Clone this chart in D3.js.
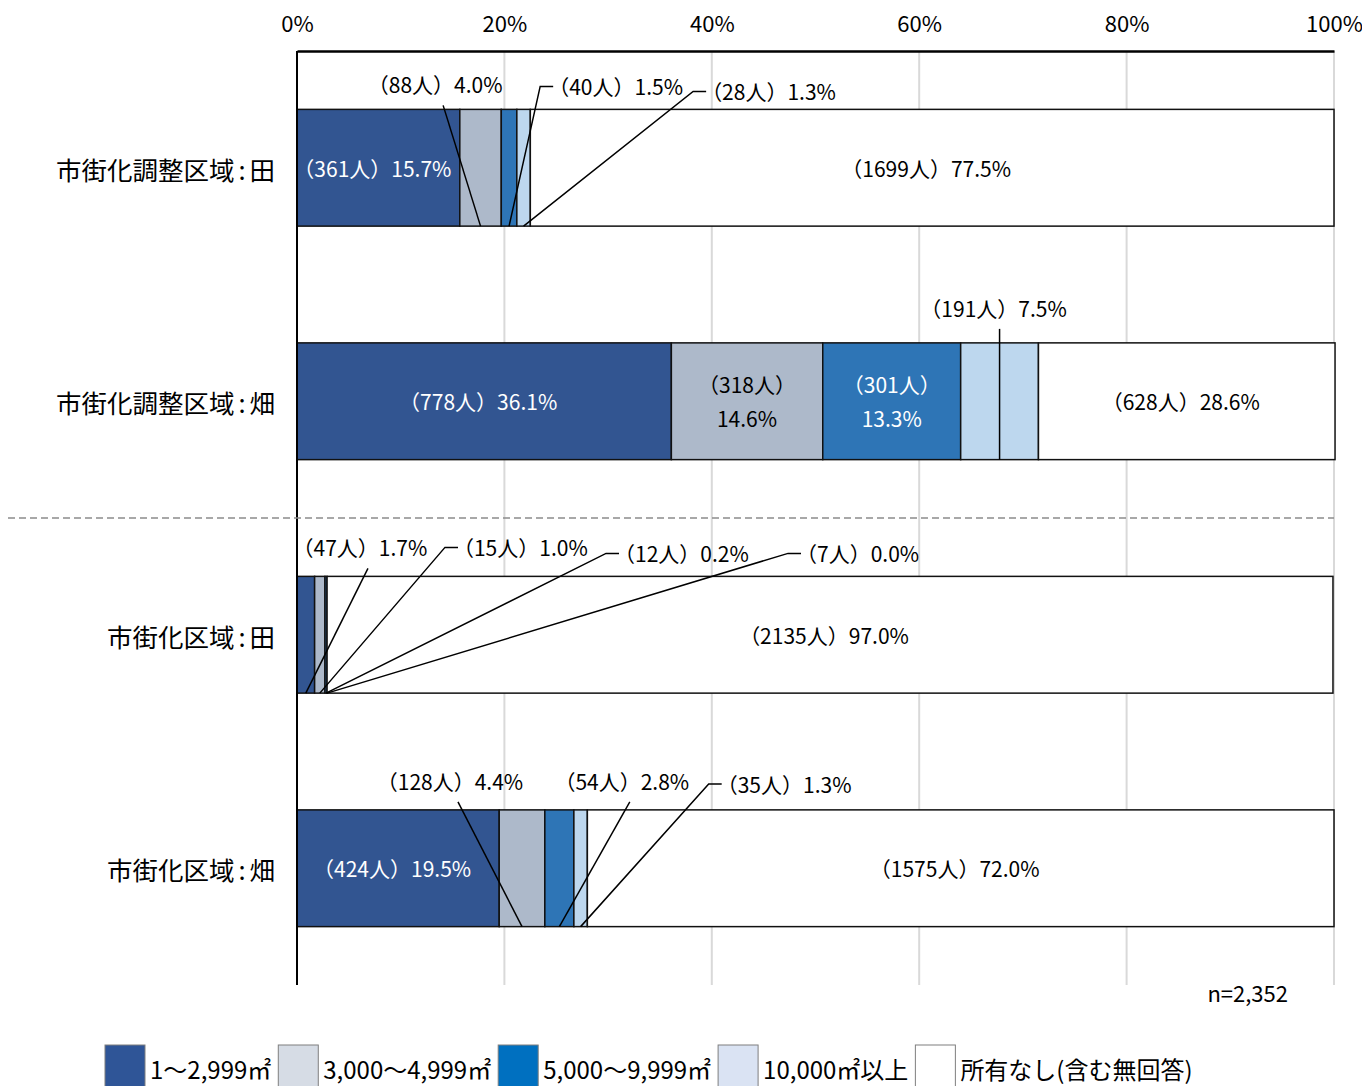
<!DOCTYPE html>
<html><head><meta charset="utf-8">
<script src="https://cdn.jsdelivr.net/npm/d3@7/dist/d3.min.js"></script>
<style>
html,body{margin:0;padding:0;background:#fff;}
text{font-family:"Noto Sans CJK JP","Noto Sans",sans-serif;}
</style></head>
<body>
<svg id="chart" width="1362" height="1086"></svg>
<script>
// ---- data ----
const categories = ["市街化調整区域:田", "市街化調整区域:畑", "市街化区域:田", "市街化区域:畑"];
const seriesNames = ["1～2,999㎡", "3,000～4,999㎡", "5,000～9,999㎡", "10,000㎡以上", "所有なし(含む無回答)"];
// percentages per series (one value per category)
const pct1 = [15.7, 36.1, 1.7, 19.5];
const pct2 = [4.0, 14.6, 1.0, 4.4];
const pct3 = [1.5, 13.3, 0.2, 2.8];
const pct4 = [1.3, 7.5, 0.0, 1.3];
const pct5 = [77.5, 28.6, 97.0, 72.0];
// respondent counts per series
const cnt1 = [361, 778, 47, 424];
const cnt2 = [88, 318, 15, 128];
const cnt3 = [40, 301, 12, 54];
const cnt4 = [28, 191, 7, 35];
const cnt5 = [1699, 628, 2135, 1575];
const xTicks = [0, 20, 40, 60, 80, 100];
const sampleNote = "n=2,352";

(function () {
// ---- styles ----
const barColors = ["#325591", "#ADB9CA", "#2E75B6", "#BDD7EE", "#FFFFFF"];
const legendColors = ["#2F5597", "#D6DCE5", "#0070C0", "#DAE3F3", "#FFFFFF"];
const labelColors = ["#fff", "#000", "#fff", "#000", "#000"];
const SHIFT = -6; // optical shift for labels starting with a full-width paren

// callouts: row, series, label placement (x in % units, dy relative to bar top), elbow style
const callouts = [
  {row:0, s:1, lx:13.9, dy:-25, elbow:false},
  {row:0, s:2, lx:23.45, dy:-23, elbow:true},
  {row:0, s:3, lx:38.2, dy:-18, elbow:true},
  {row:1, s:3, lx:null, dy:-35, elbow:false, vertical:true},
  {row:2, s:0, lx:6.65, dy:-29, elbow:false},
  {row:2, s:1, lx:14.27, dy:-29, elbow:true},
  {row:2, s:2, lx:29.8, dy:-23, elbow:true},
  {row:2, s:3, lx:47.35, dy:-23, elbow:true},
  {row:3, s:1, lx:15.33, dy:-29, elbow:false},
  {row:3, s:2, lx:31.9, dy:-29, elbow:false},
  {row:3, s:3, lx:39.7, dy:-26, elbow:true}
];

const pcts = [pct1, pct2, pct3, pct4, pct5];
const cnts = [cnt1, cnt2, cnt3, cnt4, cnt5];

const svg = d3.select("#chart");
const mLeft = 297, mRight = 1334, mTop = 51, mBottom = 985;

const x = d3.scaleLinear().domain([0, 100]).range([mLeft, mRight]);
const y = d3.scaleBand().domain(categories).range([mTop, mBottom]).paddingInner(0.5).paddingOuter(0.25);

// gridlines
svg.append("g").selectAll("line").data(xTicks.filter(t => t > 0)).join("line")
  .attr("x1", d => x(d)).attr("x2", d => x(d)).attr("y1", mTop).attr("y2", mBottom)
  .attr("stroke", "#D9D9D9").attr("stroke-width", 2);

// top axis
const axis = d3.axisTop(x).tickValues(xTicks).tickSize(0).tickPadding(19).tickFormat(d => d + "%");
const ag = svg.append("g").attr("transform", `translate(0,${mTop})`).call(axis);
ag.select(".domain").attr("stroke", "#000").attr("stroke-width", 2.5);
ag.selectAll("text").attr("font-size", 22).attr("fill", "#000")
  .style("font-family", '"Noto Sans CJK JP","Noto Sans",sans-serif');

// stacked data
const stacked = categories.map((c, i) => {
  let acc = 0;
  return pcts.map((p, s) => {
    const seg = {row:i, s, cat:c, x0:acc, x1:acc + p[i], pct:p[i], cnt:cnts[s][i]};
    acc += p[i];
    return seg;
  });
});
const segs = stacked.flat();

svg.append("g").selectAll("rect").data(segs).join("rect")
  .attr("x", d => x(d.x0)).attr("width", d => Math.max(0, x(d.x1) - x(d.x0)))
  .attr("y", d => y(d.cat)).attr("height", y.bandwidth())
  .attr("fill", d => barColors[d.s]).attr("stroke", "#111").attr("stroke-width", 1.5);

// left axis line
svg.append("line").attr("x1", mLeft).attr("x2", mLeft).attr("y1", mTop).attr("y2", mBottom)
  .attr("stroke", "#000").attr("stroke-width", 2);

// dashed separator between groups
const sepY = (y(categories[1]) + y.bandwidth() + y(categories[2])) / 2;
svg.append("line").attr("x1", 8).attr("x2", mRight).attr("y1", sepY).attr("y2", sepY)
  .attr("stroke", "#8c8c8c").attr("stroke-width", 1.5).attr("stroke-dasharray", "7,4");

// category labels (colon given a little extra room)
const cl = svg.append("g").selectAll("text").data(categories).join("text")
  .attr("x", 275).attr("y", d => y(d) + y.bandwidth() / 2)
  .attr("text-anchor", "end").attr("dominant-baseline", "central")
  .attr("font-size", 25.5).attr("fill", "#000");
cl.each(function (d) {
  const parts = d.split(":");
  const t = d3.select(this);
  t.append("tspan").text(parts[0]);
  t.append("tspan").attr("dx", 4).text(":");
  t.append("tspan").attr("dx", 4).text(parts[1]);
});

const fs = 21;
const labelText = d => `（${d.cnt}人）${d.pct.toFixed(1)}%`;
const isCallout = d => callouts.some(c => c.row === d.row && c.s === d.s);

// inside labels
const inner = svg.append("g");
segs.filter(d => !isCallout(d)).forEach(d => {
  const cx = (x(d.x0) + x(d.x1)) / 2 + SHIFT, cy = y(d.cat) + y.bandwidth() / 2;
  const t = inner.append("text").attr("x", cx).attr("y", cy).attr("text-anchor", "middle")
    .attr("dominant-baseline", "central").attr("font-size", fs).attr("fill", labelColors[d.s])
    .text(labelText(d));
  const w = t.node().getComputedTextLength();
  if (w > x(d.x1) - x(d.x0) - 2) {
    t.text(null);
    t.append("tspan").attr("x", cx + 6).attr("y", cy - 17).text(`（${d.cnt}人）`);
    t.append("tspan").attr("x", cx + 6).attr("y", cy + 17).text(`${d.pct.toFixed(1)}%`);
  }
});

// callouts with leader lines
const cg = svg.append("g");
callouts.forEach(c => {
  const d = stacked[c.row][c.s];
  const barTop = y(d.cat), barBot = barTop + y.bandwidth();
  const mx = (x(d.x0) + x(d.x1)) / 2;
  const ty = barTop + c.dy;
  if (c.vertical) {
    cg.append("text").attr("x", mx + SHIFT).attr("y", ty).attr("text-anchor", "middle")
      .attr("dominant-baseline", "central").attr("font-size", fs).text(labelText(d));
    cg.append("line").attr("x1", mx).attr("x2", mx).attr("y1", ty + 21).attr("y2", barBot)
      .attr("stroke", "#000").attr("stroke-width", 1.5);
  } else if (c.elbow) {
    const ex = x(c.lx);
    cg.append("path").attr("d", `M${ex + 13},${ty}L${ex},${ty}L${mx},${barBot}`)
      .attr("fill", "none").attr("stroke", "#000").attr("stroke-width", 1.5);
    cg.append("text").attr("x", ex + 8).attr("y", ty).attr("text-anchor", "start")
      .attr("dominant-baseline", "central").attr("font-size", fs).text(labelText(d));
  } else {
    const tx = x(c.lx);
    cg.append("text").attr("x", tx + SHIFT).attr("y", ty).attr("text-anchor", "middle")
      .attr("dominant-baseline", "central").attr("font-size", fs).text(labelText(d));
    cg.append("line").attr("x1", tx + 2).attr("x2", mx).attr("y1", ty + 21).attr("y2", barBot)
      .attr("stroke", "#000").attr("stroke-width", 1.5);
  }
});

// sample size note
svg.append("text").attr("x", 1288).attr("y", 992).attr("text-anchor", "end")
  .attr("dominant-baseline", "central").attr("font-size", 22).text(sampleNote);

// legend
const lg = svg.append("g");
let lx = 105;
seriesNames.forEach((name, i) => {
  lg.append("rect").attr("x", lx).attr("y", 1045).attr("width", 40).attr("height", 45)
    .attr("fill", legendColors[i]).attr("stroke", "#7f7f7f").attr("stroke-width", 1);
  const t = lg.append("text").attr("x", lx + 45).attr("y", 1068).attr("dominant-baseline", "central")
    .attr("font-size", 24).attr("fill", "#000").text(name);
  lx += 45 + t.node().getComputedTextLength() + 7;
});
})();
</script>
</body></html>
